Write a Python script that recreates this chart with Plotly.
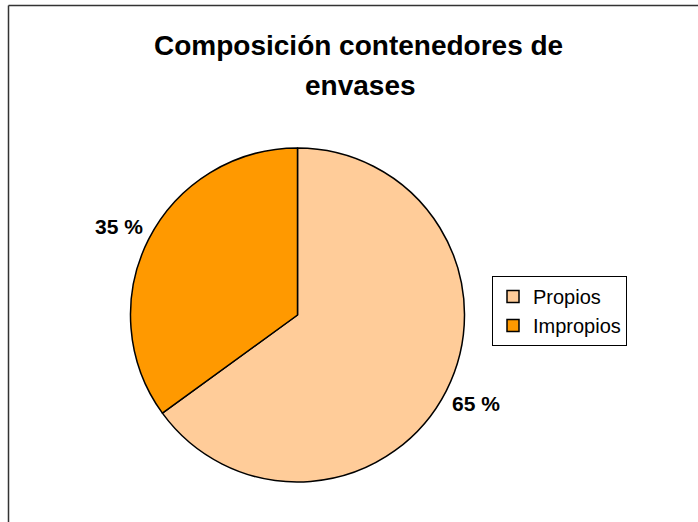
import plotly.graph_objects as go

categories = ["Propios", "Impropios"]
values = [65, 35]
colors = ["#FFCC99", "#FF9900"]
title_lines = ["Composición contenedores de", "envases"]

W, H = 698, 522

def px(x):
    return x / W

def py(y):
    return 1 - y / H

FONT = "Liberation Sans, Arial"

fig = go.Figure()
fig.add_trace(go.Pie(
    labels=categories,
    values=values,
    marker=dict(colors=colors, line=dict(color="black", width=1.5)),
    sort=False,
    direction="clockwise",
    rotation=0,
    textinfo="none",
    hoverinfo="label+percent",
    domain=dict(x=[px(130), px(465)], y=[py(482), py(148)]),
))

annotations = []
annotations.append(dict(text="<b>%s</b>" % title_lines[0], x=px(358), y=py(46), xref="paper", yref="paper",
                        xanchor="center", yanchor="middle",
                        showarrow=False, font=dict(family=FONT, size=28, color="black")))
annotations.append(dict(text="<b>%s</b>" % title_lines[1], x=px(360), y=py(85), xref="paper", yref="paper",
                        xanchor="center", yanchor="middle",
                        showarrow=False, font=dict(family=FONT, size=28, color="black")))
label_pos = {"Impropios": (119, 226), "Propios": (476, 403)}
total = sum(values)
for cat, v in zip(categories, values):
    lx, ly = label_pos[cat]
    annotations.append(dict(text="<b>%d %%</b>" % round(100 * v / total), x=px(lx), y=py(ly),
                            xref="paper", yref="paper", showarrow=False,
                            xanchor="center", yanchor="middle",
                            font=dict(family=FONT, size=21, color="black")))

fig.update_layout(
    width=W, height=H,
    margin=dict(l=0, r=0, t=0, b=0),
    paper_bgcolor="white",
    plot_bgcolor="white",
    annotations=annotations,
    showlegend=True,
    legend=dict(
        x=px(492), y=py(276), xanchor="left", yanchor="top",
        bordercolor="black", borderwidth=1, bgcolor="white",
        font=dict(family=FONT, size=20, color="black"),
        itemwidth=30,
    ),
    shapes=[
        dict(type="line", xref="paper", yref="paper", x0=px(8.5), x1=1.0, y0=py(5.5), y1=py(5.5),
             line=dict(color="#333333", width=1.5)),
        dict(type="line", xref="paper", yref="paper", x0=px(8.5), x1=px(8.5), y0=py(5.5), y1=0.0,
             line=dict(color="#333333", width=1.5)),
    ],
)

fig.write_html("out.html", config={"displayModeBar": False},
               post_script="document.body.style.margin='0';")
